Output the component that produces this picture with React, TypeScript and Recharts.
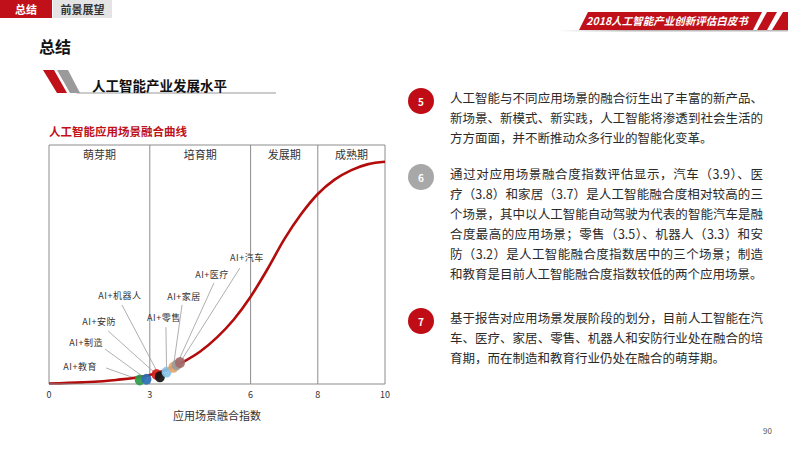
import React from 'react';
import { ComposedChart, Line, Scatter, XAxis, YAxis, ReferenceLine, ReferenceArea } from 'recharts';

// 融合曲线：x = 应用场景融合指数，y = 融合水平（0-100）
const curveIndex = [0, 1, 2, 3, 3.5, 4, 4.5, 5, 5.5, 6, 6.5, 7, 7.5, 8, 8.5, 9, 9.5, 10];
const curveLevel = [0.2, 0.7, 1.7, 3.8, 6, 9.3, 13.6, 19.5, 27, 36.5, 48, 60.5, 71, 79.5, 85.5, 89.5, 92, 93];

// 各应用场景
const scenes = ['教育', '制造', '安防', '机器人', '零售', '家居', '医疗', '汽车'];
const sceneIndex = [2.7, 2.9, 3.2, 3.3, 3.5, 3.7, 3.8, 3.9];
const sceneLevel = [1.7, 2.0, 4.0, 3.0, 5.0, 7.0, 8.0, 9.0];

// 阶段划分
const stages = ['萌芽期', '培育期', '发展期', '成熟期'];
const stageBounds = [0, 3, 6, 8, 10];
const xTicks = [0, 3, 6, 8, 10];

// 样式 / 标注位置（不是数据）
const sceneColors = ['#2f9a4a', '#2d6fb5', '#d42020', '#111111', '#86c6ea', '#e3a66a', '#9b9b9b', '#a56a6a'];
const calloutX = [1.7, 1.67, 1.76, 2.17, 3.48, 3.96, 4.91, 5.68];
const calloutY = [6.7, 14.6, 22.2, 33.1, 23.8, 33.1, 42.3, 48.5];
const calloutDx = [-26, -19, -9, -2, -2, 2, -2, 7];
const calloutDy = [-1, -7, -9, -9, -10, -8, -8, -11];

const curveData = curveIndex.map((x, i) => ({ x, y: curveLevel[i] }));
const sceneData = scenes.map((name, i) => ({ name, x: sceneIndex[i], y: sceneLevel[i], idx: i }));
const calloutData = scenes.map((name, i) => ({ name, x: calloutX[i], y: calloutY[i], idx: i }));

const GRID = '#8c8c8c';
const RED = '#c0101a';
const FONT = '"Noto Sans CJK SC", "Noto Sans", sans-serif';

// eslint-disable-next-line @typescript-eslint/no-explicit-any
const SceneDot = (props: any) => {
    const { cx, cy, payload } = props;
    return (
        <ellipse cx={cx} cy={cy} rx={5} ry={5.5} fill={sceneColors[payload.idx]} fillOpacity={0.92} />
    );
};

// eslint-disable-next-line @typescript-eslint/no-explicit-any
const CalloutLabel = (props: any) => {
    const { cx, cy, payload } = props;
    return (
        <text
            x={cx + calloutDx[payload.idx]}
            y={cy + calloutDy[payload.idx]}
            textAnchor="middle"
            dominantBaseline="central"
            fontSize={9}
            fill="#333"
            letterSpacing={0.5}
        >
            {'AI+' + payload.name}
        </text>
    );
};

const FusionChart = () => (
    <ComposedChart
        width={380}
        height={300}
        data={curveData}
        margin={{ top: 10, right: 25, bottom: 11, left: 19 }}
    >
        <XAxis
            dataKey="x"
            type="number"
            domain={[0, 10]}
            ticks={xTicks}
            interval={0}
            tickLine={false}
            stroke={GRID}
            tick={{ fontSize: 9, fill: '#333' }}
            height={40}
            label={{ value: '应用场景融合指数', position: 'insideBottom', offset: 4, fontSize: 11, fill: '#333' }}
        />
        <YAxis dataKey="y" type="number" domain={[0, 100]} hide />
        {stages.map((s, i) => (
            <ReferenceArea
                key={s}
                x1={stageBounds[i]}
                x2={stageBounds[i + 1]}
                y1={0}
                y2={100}
                fill="none"
                stroke="none"
                label={{ value: s, position: 'insideTop', offset: 6, fontSize: 11, fill: '#333' }}
            />
        ))}
        {stageBounds.map(b => (
            <ReferenceLine key={`b-${b}`} x={b} stroke={GRID} strokeWidth={1} />
        ))}
        <ReferenceLine y={100} stroke={GRID} strokeWidth={1} />
        {sceneData.map((d, i) => (
            <ReferenceLine
                key={`lead-${i}`}
                segment={[{ x: calloutX[i], y: calloutY[i] }, { x: d.x, y: d.y }]}
                stroke="#9a9a9a"
                strokeWidth={0.8}
            />
        ))}
        <Scatter data={calloutData} dataKey="y" shape={<CalloutLabel />} isAnimationActive={false} />
        <Scatter data={sceneData} dataKey="y" shape={<SceneDot />} isAnimationActive={false} />
        <Line
            type="monotone"
            dataKey="y"
            stroke="#b30c0c"
            strokeWidth={2.6}
            dot={false}
            activeDot={false}
            isAnimationActive={false}
        />
    </ComposedChart>
);

const para5 = [
    '人工智能与不同应用场景的融合衍生出了丰富的新产品、',
    '新场景、新模式、新实践，人工智能将渗透到社会生活的',
    '方方面面，并不断推动众多行业的智能化变革。',
];
const para6 = [
    '通过对应用场景融合度指数评估显示，汽车（3.9）、医',
    '疗（3.8）和家居（3.7）是人工智能融合度相对较高的三',
    '个场景，其中以人工智能自动驾驶为代表的智能汽车是融',
    '合度最高的应用场景；零售（3.5）、机器人（3.3）和安',
    '防（3.2）是人工智能融合度指数居中的三个场景；制造',
    '和教育是目前人工智能融合度指数较低的两个应用场景。',
];
const para7 = [
    '基于报告对应用场景发展阶段的划分，目前人工智能在汽',
    '车、医疗、家居、零售、机器人和安防行业处在融合的培',
    '育期，而在制造和教育行业仍处在融合的萌芽期。',
];

const Paragraph = ({ lines, top, num, color }: { lines: string[]; top: number; num: number; color: string }) => (
    <>
        <div
            style={{
                position: 'absolute', left: 408, top: top - 10, width: 26, height: 26, borderRadius: '50%',
                background: color, color: '#fff', fontSize: 10, fontWeight: 700,
                display: 'flex', alignItems: 'center', justifyContent: 'center',
            }}
        >
            {num}
        </div>
        {lines.map((l, i) => (
            <div
                key={i}
                style={{
                    position: 'absolute', left: 450, top: top + i * 20 - 10, width: 313, height: 20,
                    lineHeight: '20px', fontSize: 12.5, color: '#2a2a2a', whiteSpace: 'nowrap',
                    textAlign: i < lines.length - 1 ? 'justify' : 'left',
                    textAlignLast: i < lines.length - 1 ? 'justify' : 'left',
                }}
            >
                {l}
            </div>
        ))}
    </>
);

export default function App() {
    return (
        <div
            style={{
                position: 'fixed', left: 0, top: 0, width: 800, height: 449, background: '#fff',
                overflow: 'hidden', fontFamily: FONT,
            }}
        >
            {/* 顶部标签 */}
            <div style={{ position: 'absolute', left: 0, top: 0, width: 52, height: 18, background: RED, color: '#fff', fontSize: 11, fontWeight: 700, lineHeight: '18px', textAlign: 'center' }}>总结</div>
            <div style={{ position: 'absolute', left: 53, top: 0, width: 59, height: 18, background: '#e4e4e4', color: '#333', fontSize: 11, fontWeight: 700, lineHeight: '18px', textAlign: 'center' }}>前景展望</div>

            {/* 右上角横幅 */}
            <svg style={{ position: 'absolute', left: 0, top: 0 }} width={800} height={40}>
                <defs>
                    <linearGradient id="fade" x1="0" x2="1" y1="0" y2="0">
                        <stop offset="0" stopColor="#bbb" stopOpacity={0} />
                        <stop offset="0.3" stopColor="#bbb" stopOpacity={1} />
                    </linearGradient>
                </defs>
                <rect x={557} y={30} width={231} height={1.5} fill="url(#fade)" />
                <polygon points="588,12 762,12 753,30 579,30" fill={RED} />
                <polygon points="767,12 777,12 767,30 757,30" fill={RED} />
                <polygon points="783,12 788,12 788,30 772,30" fill={RED} />
                <text x={667} y={25} textAnchor="middle" fontSize={10.5} fontWeight={700} fontStyle="italic" fill="#fff">
                    2018人工智能产业创新评估白皮书
                </text>
            </svg>

            {/* 标题 */}
            <div style={{ position: 'absolute', left: 39, top: 35, fontSize: 16, fontWeight: 700, color: '#111', lineHeight: '22px' }}>总结</div>

            <svg style={{ position: 'absolute', left: 0, top: 60 }} width={300} height={40}>
                <polygon points="43,10 54,10 67,33 57,33" fill={RED} />
                <polygon points="57,10 68,10 80,33 70,33" fill="#9a9a9a" />
                <rect x={77} y={32.5} width={199} height={1} fill="#999" />
            </svg>
            <div style={{ position: 'absolute', left: 92, top: 75, fontSize: 13.5, fontWeight: 700, color: '#111', lineHeight: '20px' }}>人工智能产业发展水平</div>

            <div style={{ position: 'absolute', left: 49, top: 122, fontSize: 11.5, fontWeight: 700, color: RED, lineHeight: '18px' }}>人工智能应用场景融合曲线</div>

            <div style={{ position: 'absolute', left: 30, top: 135 }}>
                <FusionChart />
            </div>

            <Paragraph lines={para5} top={98} num={5} color="#c00d15" />
            <Paragraph lines={para6} top={174} num={6} color="#a8a8a8" />
            <Paragraph lines={para7} top={318} num={7} color="#c00d15" />

            <div style={{ position: 'absolute', left: 763, top: 425, fontSize: 8, color: '#555' }}>90</div>
        </div>
    );
}
